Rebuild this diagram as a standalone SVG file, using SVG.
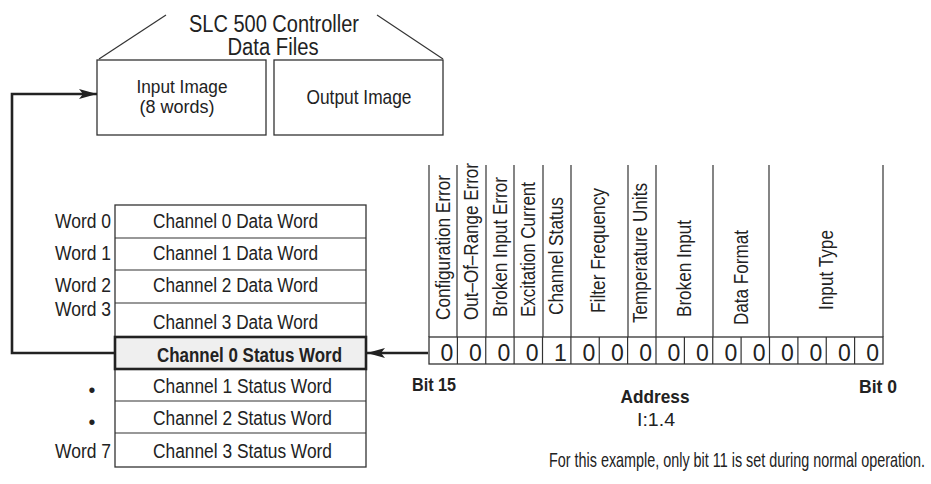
<svg xmlns="http://www.w3.org/2000/svg" width="931" height="484" viewBox="0 0 931 484">
<style>
text{font-family:"Liberation Sans Narrow","Liberation Sans",Arial,sans-serif;fill:#222;}
.t{font-size:19.5px;}
.b{font-weight:bold;}
.h{font-size:20px;}
.d{font-size:23px;text-anchor:middle;}
.box{fill:#fff;stroke:#333;stroke-width:1.3;}
.ln{fill:none;stroke:#333;stroke-width:1.2;}
.conn{fill:none;stroke:#222;stroke-width:2.6;}
</style>
<defs>
<marker id="ah" viewBox="0 0 18 10" refX="18" refY="5" markerWidth="18" markerHeight="10" markerUnits="userSpaceOnUse" orient="auto">
<path d="M0,0 L18,5 L0,10 L4,5 Z" fill="#222"/>
</marker>
</defs>

<g id="title">
<text x="274" y="31.5" font-size="23" text-anchor="middle" textLength="170" lengthAdjust="spacingAndGlyphs">SLC 500 Controller</text>
<text x="273" y="55" font-size="23" text-anchor="middle" textLength="91" lengthAdjust="spacingAndGlyphs">Data Files</text>
<line class="ln" x1="99" y1="59" x2="166" y2="15"/>
<line class="ln" x1="377" y1="15" x2="443" y2="59"/>
</g>

<g id="input-image">
<rect class="box" x="97" y="60" width="169" height="75"/>
<text x="182" y="93" font-size="17.5" text-anchor="middle" textLength="91" lengthAdjust="spacingAndGlyphs">Input Image</text>
<text x="177" y="112.5" font-size="17.5" text-anchor="middle" textLength="75" lengthAdjust="spacingAndGlyphs">(8 words)</text>
</g>

<g id="output-image">
<rect class="box" x="274" y="60" width="169" height="75"/>
<text x="359" y="104" font-size="21" text-anchor="middle" textLength="105" lengthAdjust="spacingAndGlyphs">Output Image</text>
</g>

<g id="word-table">
<rect class="box" x="115" y="205" width="251" height="262"/>
<line class="ln" x1="115" y1="238" x2="366" y2="238"/>
<line class="ln" x1="115" y1="270" x2="366" y2="270"/>
<line class="ln" x1="115" y1="303" x2="366" y2="303"/>
<line class="ln" x1="115" y1="401" x2="366" y2="401"/>
<line class="ln" x1="115" y1="433" x2="366" y2="433"/>
<text class="t" x="153" y="228" textLength="165" lengthAdjust="spacingAndGlyphs">Channel 0 Data Word</text>
<text class="t" x="153" y="260" textLength="165" lengthAdjust="spacingAndGlyphs">Channel 1 Data Word</text>
<text class="t" x="153" y="292" textLength="165" lengthAdjust="spacingAndGlyphs">Channel 2 Data Word</text>
<text class="t" x="153" y="329" textLength="165" lengthAdjust="spacingAndGlyphs">Channel 3 Data Word</text>
<text class="t" x="153" y="393" textLength="179" lengthAdjust="spacingAndGlyphs">Channel 1 Status Word</text>
<text class="t" x="153" y="425" textLength="179" lengthAdjust="spacingAndGlyphs">Channel 2 Status Word</text>
<text class="t" x="153" y="458" textLength="179" lengthAdjust="spacingAndGlyphs">Channel 3 Status Word</text>
<g text-anchor="end">
<text class="t" x="111" y="228" textLength="56" lengthAdjust="spacingAndGlyphs">Word 0</text>
<text class="t" x="111" y="260" textLength="56" lengthAdjust="spacingAndGlyphs">Word 1</text>
<text class="t" x="111" y="292" textLength="56" lengthAdjust="spacingAndGlyphs">Word 2</text>
<text class="t" x="111" y="316" textLength="56" lengthAdjust="spacingAndGlyphs">Word 3</text>
<text class="t" x="111" y="458" textLength="56" lengthAdjust="spacingAndGlyphs">Word 7</text>
</g>
<text class="t" x="92" y="397" text-anchor="middle">•</text>
<text class="t" x="92" y="429" text-anchor="middle">•</text>
</g>

<g id="status-word-0">
<rect x="115" y="337" width="251" height="32" fill="#efefef" stroke="#222" stroke-width="2.6"/>
<text class="t b" x="157" y="362" textLength="185" lengthAdjust="spacingAndGlyphs">Channel 0 Status Word</text>
</g>

<g id="bit-header">
<g class="ln">
<line x1="429" y1="165" x2="429" y2="337"/>
<line x1="457" y1="165" x2="457" y2="337"/>
<line x1="486" y1="165" x2="486" y2="337"/>
<line x1="514" y1="165" x2="514" y2="337"/>
<line x1="543" y1="165" x2="543" y2="337"/>
<line x1="571" y1="165" x2="571" y2="337"/>
<line x1="628" y1="165" x2="628" y2="337"/>
<line x1="656" y1="165" x2="656" y2="337"/>
<line x1="713" y1="165" x2="713" y2="337"/>
<line x1="769" y1="165" x2="769" y2="337"/>
<line x1="883" y1="165" x2="883" y2="337"/>
</g>
<text class="h" transform="translate(450,320) rotate(-90)" textLength="145" lengthAdjust="spacingAndGlyphs">Configuration Error</text>
<text class="h" transform="translate(478,320) rotate(-90)" textLength="157" lengthAdjust="spacingAndGlyphs">Out–Of–Range Error</text>
<text class="h" transform="translate(507,317) rotate(-90)" textLength="140" lengthAdjust="spacingAndGlyphs">Broken Input Error</text>
<text class="h" transform="translate(535,317) rotate(-90)" textLength="135" lengthAdjust="spacingAndGlyphs">Excitation Current</text>
<text class="h" transform="translate(563,315) rotate(-90)" textLength="118" lengthAdjust="spacingAndGlyphs">Channel Status</text>
<text class="h" transform="translate(605,313) rotate(-90)" textLength="125" lengthAdjust="spacingAndGlyphs">Filter Frequency</text>
<text class="h" transform="translate(647,323) rotate(-90)" textLength="140" lengthAdjust="spacingAndGlyphs">Temperature Units</text>
<text class="h" transform="translate(691,317) rotate(-90)" textLength="97" lengthAdjust="spacingAndGlyphs">Broken Input</text>
<text class="h" transform="translate(748,325) rotate(-90)" textLength="95" lengthAdjust="spacingAndGlyphs">Data Format</text>
<text class="h" transform="translate(833,310) rotate(-90)" textLength="80" lengthAdjust="spacingAndGlyphs">Input Type</text>
</g>

<g id="bit-row">
<rect class="box" x="429" y="337" width="454" height="27"/>
<g class="ln">
<line x1="457.4" y1="337" x2="457.4" y2="364"/>
<line x1="485.75" y1="337" x2="485.75" y2="364"/>
<line x1="514.1" y1="337" x2="514.1" y2="364"/>
<line x1="542.5" y1="337" x2="542.5" y2="364"/>
<line x1="570.9" y1="337" x2="570.9" y2="364"/>
<line x1="599.25" y1="337" x2="599.25" y2="364"/>
<line x1="627.6" y1="337" x2="627.6" y2="364"/>
<line x1="656" y1="337" x2="656" y2="364"/>
<line x1="684.4" y1="337" x2="684.4" y2="364"/>
<line x1="712.75" y1="337" x2="712.75" y2="364"/>
<line x1="741.1" y1="337" x2="741.1" y2="364"/>
<line x1="769.5" y1="337" x2="769.5" y2="364"/>
<line x1="797.9" y1="337" x2="797.9" y2="364"/>
<line x1="826.25" y1="337" x2="826.25" y2="364"/>
<line x1="854.6" y1="337" x2="854.6" y2="364"/>
</g>
<text class="d" x="447" y="360.5">0</text>
<text class="d" x="475.4" y="360.5">0</text>
<text class="d" x="503.8" y="360.5">0</text>
<text class="d" x="532.1" y="360.5">0</text>
<text class="d" x="560.5" y="360.5">1</text>
<text class="d" x="588.9" y="360.5">0</text>
<text class="d" x="617.3" y="360.5">0</text>
<text class="d" x="645.6" y="360.5">0</text>
<text class="d" x="674" y="360.5">0</text>
<text class="d" x="702.4" y="360.5">0</text>
<text class="d" x="730.8" y="360.5">0</text>
<text class="d" x="759.1" y="360.5">0</text>
<text class="d" x="787.5" y="360.5">0</text>
<text class="d" x="815.9" y="360.5">0</text>
<text class="d" x="844.3" y="360.5">0</text>
<text class="d" x="872.6" y="360.5">0</text>
</g>

<g id="labels">
<text class="b" x="412" y="391" font-size="19" textLength="44" lengthAdjust="spacingAndGlyphs">Bit 15</text>
<text class="b" x="859" y="393" font-size="19" textLength="38" lengthAdjust="spacingAndGlyphs">Bit 0</text>
<text class="b" x="655" y="403" font-size="19" text-anchor="middle" textLength="69" lengthAdjust="spacingAndGlyphs">Address</text>
<text x="656" y="426" font-size="19" text-anchor="middle" textLength="38" lengthAdjust="spacingAndGlyphs">I:1.4</text>
<text transform="translate(549,467) scale(0.715,1)" font-size="20" textLength="526" lengthAdjust="spacingAndGlyphs">For this example, only bit 11 is set during normal operation.</text>
</g>

<g id="connectors">
<polyline class="conn" points="115,353 12,353 12,94 97,94" marker-end="url(#ah)"/>
<line class="conn" x1="428" y1="353" x2="367" y2="353" marker-end="url(#ah)"/>
</g>
</svg>
